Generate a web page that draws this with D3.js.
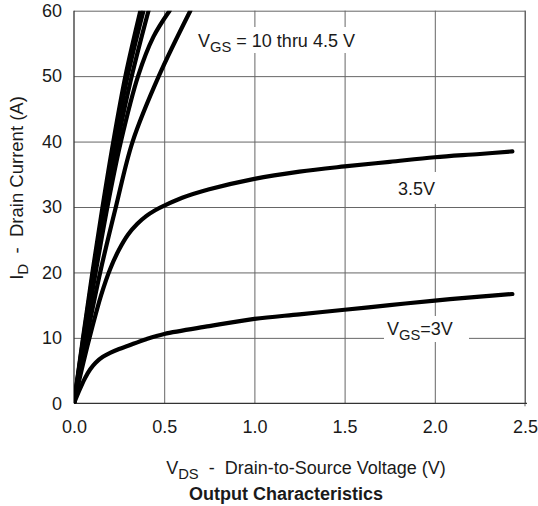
<!DOCTYPE html>
<html>
<head>
<meta charset="utf-8">
<script src="https://cdn.jsdelivr.net/npm/d3@7"></script>
<style>
  html, body { margin: 0; padding: 0; background: #fff; }
  text { font-family: "Liberation Sans", Arial, Helvetica, sans-serif; fill: #1a1a1a; }
</style>
</head>
<body>
<svg id="chart" width="538" height="506"></svg>
<script>
// ---- data ----
const xTicks = [0, 0.5, 1.0, 1.5, 2.0, 2.5];
const xTickLabels = ["0.0", "0.5", "1.0", "1.5", "2.0", "2.5"];
const yTicks = [0, 10, 20, 30, 40, 50, 60];
const yTickLabels = ["0", "10", "20", "30", "40", "50", "60"];

// upper family, VGS = 10 thru 4.5 V
const vdsA = [0, 0.05, 0.102, 0.158, 0.218, 0.285, 0.368];
const idA  = [0, 10, 20, 30, 40, 50, 60];
const vdsB = [0, 0.052, 0.106, 0.165, 0.228, 0.297, 0.385];
const idB  = [0, 10, 20, 30, 40, 50, 60];
const vdsC = [0, 0.055, 0.112, 0.175, 0.242, 0.32, 0.413];
const idC  = [0, 10, 20, 30, 40, 50, 60];
const vdsD = [0, 0.058, 0.12, 0.185, 0.26, 0.355, 0.44, 0.53];
const idD  = [0, 10, 20, 30, 40, 50, 56, 60];
const vdsE = [0, 0.07, 0.145, 0.232, 0.325, 0.47, 0.645];
const idE  = [0, 10, 20, 30, 40, 50, 60];
// VGS = 3.5 V
const vds35 = [0, 0.05, 0.1, 0.15, 0.2, 0.25, 0.3, 0.35, 0.4, 0.45, 0.5, 0.6, 0.75, 1.0, 1.25, 1.5, 1.75, 2.0, 2.25, 2.43];
const id35  = [0, 6, 11.5, 16.5, 20.5, 23.5, 25.8, 27.4, 28.6, 29.5, 30.2, 31.4, 32.7, 34.3, 35.4, 36.2, 36.9, 37.6, 38.1, 38.5];
// VGS = 3 V
const vds30 = [0, 0.03, 0.06, 0.09, 0.12, 0.16, 0.2, 0.25, 0.3, 0.4, 0.5, 0.75, 1.0, 1.25, 1.5, 1.75, 2.0, 2.25, 2.43];
const id30  = [0, 2.0, 3.8, 5.2, 6.2, 7.1, 7.7, 8.3, 8.8, 9.8, 10.6, 11.8, 12.9, 13.6, 14.3, 15.0, 15.7, 16.3, 16.7];

const seriesList = [
  [vdsA, idA], [vdsB, idB], [vdsC, idC], [vdsD, idD], [vdsE, idE], [vds35, id35], [vds30, id30]
];

// ---- layout ----
const pL = 74, pR = 525, pT = 10.7, pB = 403.3;
const svg = d3.select("#chart");
svg.append("rect").attr("width", 538).attr("height", 506).attr("fill", "#fff");

const x = d3.scaleLinear().domain([0, 2.5]).range([pL, pR]);
const y = d3.scaleLinear().domain([0, 60]).range([pB, pT]);

// grid
const grid = svg.append("g");
grid.append("g").attr("transform", `translate(0,${pB})`)
  .call(d3.axisBottom(x).tickValues(xTicks.slice(1)).tickSize(-(pB - pT)).tickFormat(""))
  .call(g => g.select(".domain").remove())
  .call(g => g.selectAll("line").attr("stroke", "#666").attr("stroke-width", 1));
grid.append("g").attr("transform", `translate(${pL},0)`)
  .call(d3.axisLeft(y).tickValues(yTicks.slice(1)).tickSize(-(pR - pL)).tickFormat(""))
  .call(g => g.select(".domain").remove())
  .call(g => g.selectAll("line").attr("stroke", "#666").attr("stroke-width", 1));

// right border with small extension below
svg.append("line").attr("x1", pR).attr("x2", pR).attr("y1", pT).attr("y2", pB + 3)
  .attr("stroke", "#666").attr("stroke-width", 1);

// label backgrounds (interrupt gridlines)
svg.append("rect").attr("x", 192).attr("y", 27).attr("width", 170).attr("height", 26).attr("fill", "#fff");
svg.append("rect").attr("x", 394).attr("y", 172).attr("width", 48).attr("height", 32).attr("fill", "#fff");
svg.append("rect").attr("x", 384).attr("y", 316).attr("width", 85).attr("height", 26).attr("fill", "#fff");

// axis lines
svg.append("line").attr("x1", pL).attr("x2", pL).attr("y1", pT).attr("y2", pB)
  .attr("stroke", "#333").attr("stroke-width", 1.3);
svg.append("line").attr("x1", pL).attr("x2", pR + 2).attr("y1", pB).attr("y2", pB)
  .attr("stroke", "#333").attr("stroke-width", 1.3);

// tick labels via axes
const xAxis = svg.append("g").attr("transform", `translate(0,${pB})`)
  .call(d3.axisBottom(x).tickValues(xTicks).tickSize(0).tickPadding(17)
    .tickFormat((d, i) => xTickLabels[i]));
xAxis.select(".domain").remove();
xAxis.selectAll("text").attr("font-size", 18).attr("font-family", null).attr("fill", "#1a1a1a");

const yAxis = svg.append("g").attr("transform", `translate(${pL},0)`)
  .call(d3.axisLeft(y).tickValues(yTicks).tickSize(0).tickPadding(12)
    .tickFormat((d, i) => yTickLabels[i]));
yAxis.select(".domain").remove();
yAxis.selectAll("text").attr("font-size", 18).attr("font-family", null).attr("fill", "#1a1a1a");

// curves
svg.append("clipPath").attr("id", "clip").append("rect")
  .attr("x", pL).attr("y", pT).attr("width", pR - pL).attr("height", pB - pT);
const line = d3.line().x(d => x(d[0])).y(d => y(d[1])).curve(d3.curveCatmullRom.alpha(0.5));
const curves = svg.append("g").attr("clip-path", "url(#clip)");
seriesList.forEach(([vs, is]) => {
  curves.append("path")
    .attr("d", line(vs.map((v, i) => [v, is[i]])))
    .attr("fill", "none").attr("stroke", "#000").attr("stroke-width", 4.2)
    .attr("stroke-linecap", "round").attr("stroke-linejoin", "round");
});

// text helper with subscript
function subText(g, xPos, yPos, main, sub, rest, size, anchor) {
  const t = g.append("text").attr("x", xPos).attr("y", yPos).attr("font-size", size)
    .attr("text-anchor", anchor || "start").style("white-space", "pre");
  t.append("tspan").text(main);
  t.append("tspan").attr("font-size", size * 0.82).attr("dy", size * 0.25).text(sub);
  t.append("tspan").attr("dy", -size * 0.25).text(rest);
  return t;
}
subText(svg, 198, 47, "V", "GS", " = 10 thru 4.5 V", 18);
svg.append("text").attr("x", 398).attr("y", 195).attr("font-size", 18).text("3.5V");
subText(svg, 387, 335, "V", "GS", "=3V", 18);

// axis titles
subText(svg, 306, 474, "V", "DS", "  -  Drain-to-Source Voltage (V)", 18, "middle");
subText(svg, 0, 0, "I", "D", "  -  Drain Current (A)", 18.5, "middle")
  .attr("transform", "translate(23,188) rotate(-90)");

svg.append("text").attr("x", 286).attr("y", 500).attr("text-anchor", "middle")
  .attr("font-size", 18).attr("font-weight", "bold").text("Output Characteristics");
</script>
</body>
</html>
